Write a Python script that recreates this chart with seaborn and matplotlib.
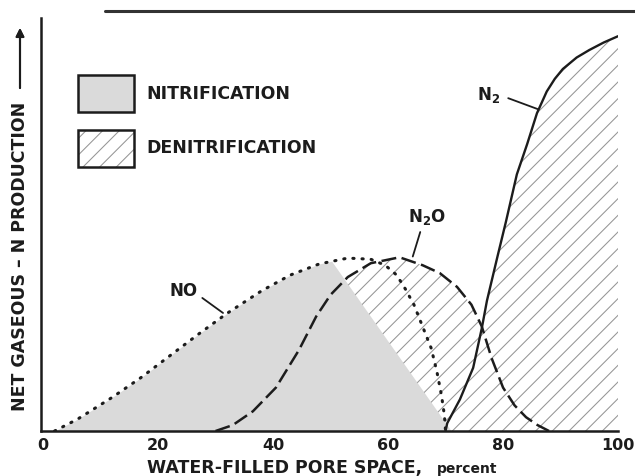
import matplotlib
matplotlib.use('Agg')
import matplotlib.pyplot as plt
import seaborn as sns
from matplotlib.patches import Patch
from matplotlib.lines import Line2D

# values
# x = water-filled pore space (%), y = relative gaseous N production (N2 top = 100)
no_x = [2, 6, 12, 17, 22, 27, 32, 38, 43, 48, 53, 57, 59.5, 61.5, 63, 64.5, 66, 67.5, 68.5, 69.3, 69.8, 70]
no_y = [0, 3, 8.5, 13.5, 19, 24.5, 29.8, 35.5, 39.5, 42.3, 43.8, 43.5, 42, 39.5, 36, 32, 26.5, 21, 15, 9, 4, 0]

n2o_x = [30, 33, 36.5, 40.5, 44.5, 47.5, 50, 53, 57, 62, 66, 69, 72, 74.5, 76.3, 78, 80, 82, 84, 86, 88]
n2o_y = [0, 1.5, 5, 11, 20.5, 29, 34.5, 39, 42.5, 44, 42, 40, 36.5, 32, 26.5, 18.5, 11, 6.5, 3.5, 1.5, 0]

n2_x = [70, 70.3, 72.5, 74.8, 76.3, 77.2, 79, 80.5, 82.4, 84.2, 85.9, 87.6, 89, 90.4, 92.8, 95, 97.5, 100]
n2_y = [0, 2, 8, 16, 26, 33, 44, 53, 65, 72.7, 80.5, 86, 89.2, 91.7, 94.6, 96.5, 98.4, 100]

# top edge of the shaded nitrification area (follows NO, then a straight edge down)
nit_x = [2, 6, 12, 17, 22, 27, 32, 38, 43, 48, 50.2, 71]
nit_y = [0, 3, 8.5, 13.5, 19, 24.5, 29.8, 35.5, 39.5, 42.3, 43, 0]

# lower-left edge of the hatched denitrification area
den_edge_x = [71, 52.6]
den_edge_y = [0, 38]

x_ticks = [0, 20, 40, 60, 80, 100]
legend_labels = ['NITRIFICATION', 'DENITRIFICATION']

sns.set_style('white')
plt.rcParams['font.family'] = ['DejaVu Sans']
plt.rcParams['mathtext.fontset'] = 'dejavusans'
plt.rcParams['hatch.linewidth'] = 0.75

ink = '#1c1c1c'
shade = '#dadada'
hatch_col = '#959595'

fig = plt.figure(figsize=(6.35, 4.76), dpi=100)
ax = fig.add_axes([0.0646, 0.0945, 0.9087, 0.8676])

ax.fill_between(nit_x, nit_y, 0, color=shade, lw=0, zorder=1)

den_x, den_y = [den_edge_x[1]], [den_edge_y[1]]
for x, y in zip(n2o_x, n2o_y):
    if den_edge_x[1] < x <= 76.3:
        den_x.append(x)
        den_y.append(y)
for x, y in zip(n2_x, n2_y):
    if x > 76.3:
        den_x.append(x)
        den_y.append(y)
den_x += [100, den_edge_x[0]]
den_y += [0, den_edge_y[0]]
ax.fill(den_x, den_y, facecolor='none', edgecolor=hatch_col, hatch='//', lw=0, zorder=1.5)

sns.lineplot(x=no_x, y=no_y, ax=ax, color=ink, lw=2.2, linestyle=(0, (0.4, 2.6)),
             dash_capstyle='round', zorder=3)
sns.lineplot(x=n2o_x, y=n2o_y, ax=ax, color=ink, lw=1.8, linestyle=(0, (6, 2.2)), zorder=3)
sns.lineplot(x=n2_x, y=n2_y, ax=ax, color=ink, lw=1.7, zorder=3)

# curve labels with leader lines
lab_kw = dict(fontsize=12, fontweight='bold', color=ink, ha='center', va='baseline')
ax.text(24.5, 34.2, 'NO', **lab_kw)
ax.text(66.8, 52.9, r'$\mathbf{N_2O}$', **lab_kw)
ax.text(77.4, 83.8, r'$\mathbf{N_2}$', **lab_kw)
lead = dict(arrowstyle='-', lw=1.3, color=ink, shrinkA=0, shrinkB=0)
ax.annotate('', xy=(31.3, 29.9), xytext=(27.7, 33.7), arrowprops=lead)
ax.annotate('', xy=(64.3, 44.2), xytext=(65.6, 50.4), arrowprops=lead)
ax.annotate('', xy=(86.1, 81.5), xytext=(80.9, 84.3), arrowprops=lead)

ax.set_xlim(-0.35, 100)
ax.set_ylim(0, 104.6)
ax.set_xticks(x_ticks)
ax.set_yticks([])
ax.set_xlabel('')
ax.set_ylabel('')
ax.tick_params(axis='x', direction='in', length=6, width=1.6, color=ink, pad=5,
               labelsize=11.5, labelcolor=ink)
for lab in ax.get_xticklabels():
    lab.set_fontweight('bold')
sns.despine(ax=ax)
for side in ['left', 'bottom']:
    ax.spines[side].set_linewidth(1.8)
    ax.spines[side].set_color(ink)

h1 = Patch(facecolor=shade, edgecolor=ink, lw=1.8)
h2 = (Patch(facecolor='white', edgecolor=hatch_col, hatch='//', lw=0),
      Patch(facecolor='none', edgecolor=ink, lw=1.8))
ax.legend([h1, h2], legend_labels, loc='upper left', bbox_to_anchor=(0.064, 0.861),
          frameon=False, handlelength=3.2, handleheight=2.9, handletextpad=0.75,
          labelspacing=1.0, borderpad=0, borderaxespad=0, labelcolor=ink,
          prop={'weight': 'bold', 'size': 12.5})

# axis titles
fig.text(147 / 635, 1 - 473 / 476, 'WATER-FILLED PORE SPACE,', fontsize=12.5,
         fontweight='bold', color=ink, ha='left', va='baseline')
fig.text(437 / 635, 1 - 473 / 476, 'percent', fontsize=10, fontweight='bold',
         color=ink, ha='left', va='baseline')
fig.text(20 / 635, 1 - 256 / 476, 'NET GASEOUS \u2013 N PRODUCTION', fontsize=12.5,
         fontweight='bold', color=ink, rotation=90, ha='center', va='center')
fig.add_artist(plt.annotate('', xy=(20 / 635, 1 - 28 / 476), xytext=(20 / 635, 1 - 88 / 476),
                            xycoords='figure fraction', textcoords='figure fraction',
                            arrowprops=dict(arrowstyle='-|>', lw=1.5, color=ink,
                                            mutation_scale=12, shrinkA=0, shrinkB=0)))

# dark page edge along the top of the scan
fig.add_artist(Line2D([105 / 635, 1.0], [1 - 11 / 476, 1 - 11 / 476], color='#333333', lw=2.2))

fig.savefig('out.png', dpi=100)
